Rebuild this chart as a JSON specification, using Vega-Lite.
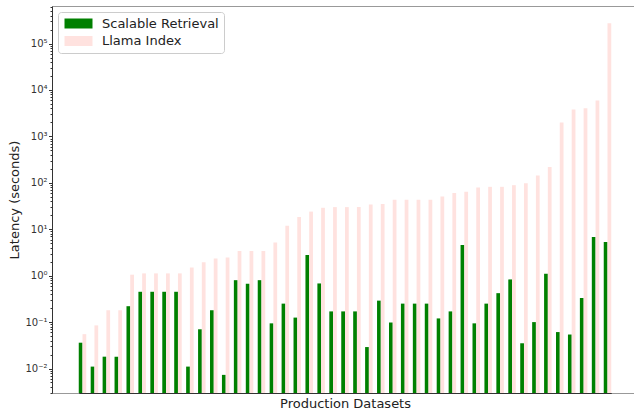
{
  "$schema": "https://vega.github.io/schema/vega-lite/v6.json",
  "width": 582,
  "height": 387,
  "autosize": "none",
  "padding": {"left": 52, "top": 6, "right": 0, "bottom": 20},
  "background": "white",
  "config": {
    "view": {"stroke": "#999999", "strokeWidth": 1},
    "font": "DejaVu Sans"
  },
  "data": {
    "values": [
      {"d": 1, "Scalable Retrieval": 0.036, "Llama Index": 0.055},
      {"d": 2, "Scalable Retrieval": 0.011, "Llama Index": 0.085},
      {"d": 3, "Scalable Retrieval": 0.018, "Llama Index": 0.18},
      {"d": 4, "Scalable Retrieval": 0.018, "Llama Index": 0.18},
      {"d": 5, "Scalable Retrieval": 0.22, "Llama Index": 1.05},
      {"d": 6, "Scalable Retrieval": 0.45, "Llama Index": 1.12},
      {"d": 7, "Scalable Retrieval": 0.45, "Llama Index": 1.12},
      {"d": 8, "Scalable Retrieval": 0.45, "Llama Index": 1.12},
      {"d": 9, "Scalable Retrieval": 0.45, "Llama Index": 1.12},
      {"d": 10, "Scalable Retrieval": 0.011, "Llama Index": 1.5},
      {"d": 11, "Scalable Retrieval": 0.07, "Llama Index": 1.95},
      {"d": 12, "Scalable Retrieval": 0.18, "Llama Index": 2.35},
      {"d": 13, "Scalable Retrieval": 0.0073, "Llama Index": 2.45},
      {"d": 14, "Scalable Retrieval": 0.8, "Llama Index": 3.4},
      {"d": 15, "Scalable Retrieval": 0.67, "Llama Index": 3.4},
      {"d": 16, "Scalable Retrieval": 0.8, "Llama Index": 3.4},
      {"d": 17, "Scalable Retrieval": 0.094, "Llama Index": 5.2},
      {"d": 18, "Scalable Retrieval": 0.25, "Llama Index": 11.9},
      {"d": 19, "Scalable Retrieval": 0.125, "Llama Index": 18.3},
      {"d": 20, "Scalable Retrieval": 2.8, "Llama Index": 24},
      {"d": 21, "Scalable Retrieval": 0.68, "Llama Index": 29},
      {"d": 22, "Scalable Retrieval": 0.17, "Llama Index": 30},
      {"d": 23, "Scalable Retrieval": 0.17, "Llama Index": 30},
      {"d": 24, "Scalable Retrieval": 0.17, "Llama Index": 30},
      {"d": 25, "Scalable Retrieval": 0.029, "Llama Index": 34},
      {"d": 26, "Scalable Retrieval": 0.29, "Llama Index": 35},
      {"d": 27, "Scalable Retrieval": 0.098, "Llama Index": 43},
      {"d": 28, "Scalable Retrieval": 0.25, "Llama Index": 43},
      {"d": 29, "Scalable Retrieval": 0.25, "Llama Index": 43},
      {"d": 30, "Scalable Retrieval": 0.25, "Llama Index": 43},
      {"d": 31, "Scalable Retrieval": 0.12, "Llama Index": 51},
      {"d": 32, "Scalable Retrieval": 0.17, "Llama Index": 60},
      {"d": 33, "Scalable Retrieval": 4.6, "Llama Index": 64},
      {"d": 34, "Scalable Retrieval": 0.094, "Llama Index": 79},
      {"d": 35, "Scalable Retrieval": 0.25, "Llama Index": 82},
      {"d": 36, "Scalable Retrieval": 0.42, "Llama Index": 82},
      {"d": 37, "Scalable Retrieval": 0.83, "Llama Index": 89},
      {"d": 38, "Scalable Retrieval": 0.035, "Llama Index": 98},
      {"d": 39, "Scalable Retrieval": 0.1, "Llama Index": 144},
      {"d": 40, "Scalable Retrieval": 1.1, "Llama Index": 220},
      {"d": 41, "Scalable Retrieval": 0.061, "Llama Index": 2000},
      {"d": 42, "Scalable Retrieval": 0.054, "Llama Index": 3800},
      {"d": 43, "Scalable Retrieval": 0.33, "Llama Index": 4050},
      {"d": 44, "Scalable Retrieval": 6.8, "Llama Index": 5900},
      {"d": 45, "Scalable Retrieval": 5.3, "Llama Index": 275000}
    ]
  },
  "transform": [
    {"fold": ["Scalable Retrieval", "Llama Index"], "as": ["series", "latency"]}
  ],
  "mark": {"type": "bar"},
  "encoding": {
    "x": {
      "field": "d",
      "type": "ordinal",
      "scale": {"range": [26.75, 559.25], "paddingInner": 0.371, "paddingOuter": 0},
      "axis": {
        "title": "Production Datasets",
        "labels": false,
        "ticks": false,
        "domain": true,
        "domainColor": "#333333",
        "domainWidth": 1,
        "titleFont": "DejaVu Sans",
        "titleFontSize": 13,
        "titleFontWeight": "normal",
        "titleColor": "#222222",
        "titlePadding": 4
      }
    },
    "xOffset": {
      "field": "series",
      "type": "nominal",
      "sort": ["Scalable Retrieval", "Llama Index"],
      "scale": {"paddingInner": 0, "paddingOuter": 0}
    },
    "y": {
      "field": "latency",
      "type": "quantitative",
      "stack": null,
      "scale": {"type": "log", "domain": [0.00297, 644000], "nice": false},
      "axis": {
        "title": "Latency (seconds)",
        "titleFont": "DejaVu Sans",
        "titleFontSize": 13,
        "titleFontWeight": "normal",
        "titleColor": "#222222",
        "titlePadding": 3,
        "grid": false,
        "domainColor": "#333333",
        "domainWidth": 1,
        "tickColor": "#333333",
        "tickSize": {"condition": {"test": "indexof([0.01,0.1,1,10,100,1000,10000,100000], datum.value) >= 0", "value": 3.5}, "value": 2},
        "labelFont": "DejaVu Sans",
        "labelFontSize": 10,
        "labelColor": "#333333",
        "labelPadding": 1.5,
        "labelFlush": false,
        "labelOverlap": false,
        "values": [0.003,0.004,0.005,0.006,0.007,0.008,0.009,0.01,0.02,0.03,0.04,0.05,0.06,0.07,0.08,0.09,0.1,0.2,0.3,0.4,0.5,0.6,0.7,0.8,0.9,1,2,3,4,5,6,7,8,9,10,20,30,40,50,60,70,80,90,100,200,300,400,500,600,700,800,900,1000,2000,3000,4000,5000,6000,7000,8000,9000,10000,20000,30000,40000,50000,60000,70000,80000,90000,100000,200000,300000,400000,500000,600000],
        "labelExpr": "datum.value == 100000 ? '10⁵' : datum.value == 10000 ? '10⁴' : datum.value == 1000 ? '10³' : datum.value == 100 ? '10²' : datum.value == 10 ? '10¹' : datum.value == 1 ? '10⁰' : datum.value == 0.1 ? '10⁻¹' : datum.value == 0.01 ? '10⁻²' : ''"
      }
    },
    "color": {
      "field": "series",
      "type": "nominal",
      "sort": ["Scalable Retrieval", "Llama Index"],
      "scale": {"domain": ["Scalable Retrieval", "Llama Index"], "range": ["#008000", "#ffe2df"]},
      "legend": {
        "title": null,
        "orient": "none",
        "legendX": 6,
        "legendY": 6,
        "fillColor": "white",
        "strokeColor": "#cccccc",
        "cornerRadius": 3,
        "padding": 5,
        "labelFont": "DejaVu Sans",
        "labelFontSize": 13,
        "labelColor": "#222222",
        "labelOffset": 26,
        "symbolType": "M-1,-1H4.6V1H-1Z",
        "symbolSize": 100,
        "symbolStrokeWidth": 0,
        "symbolOpacity": 1,
        "rowPadding": 3.5
      }
    }
  }
}
